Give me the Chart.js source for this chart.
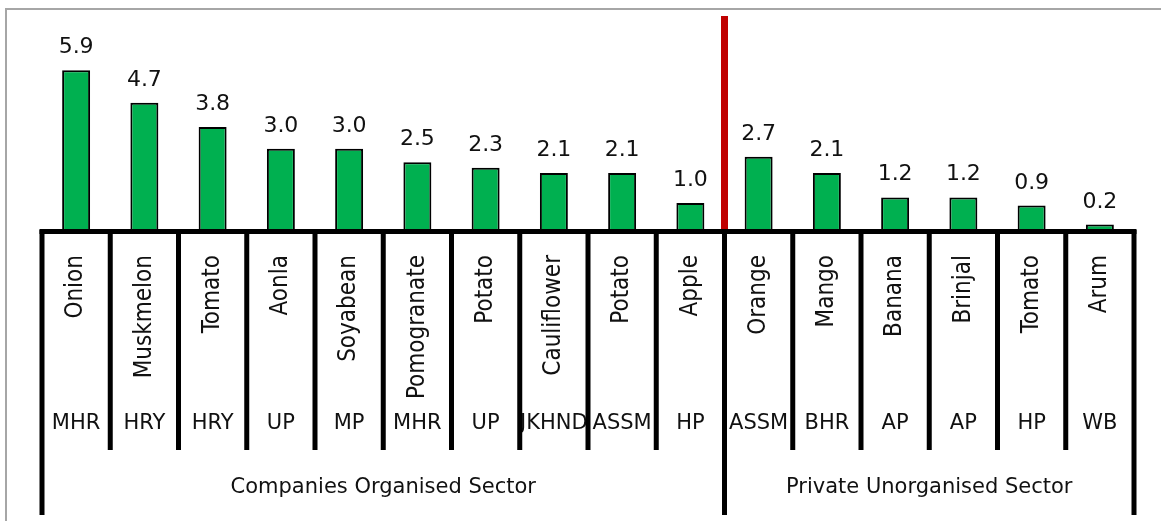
<!DOCTYPE html>
<html>
<head>
<meta charset="utf-8">
<script src="https://cdn.jsdelivr.net/npm/chart.js@4"></script>
<style>
  body { margin: 0; background: #fff; }
  #wrap { width: 1161px; height: 521px; }
</style>
</head>
<body>
<div id="wrap"><canvas id="results" width="1161" height="521"></canvas></div>
<script>
const crops = ['Onion', 'Muskmelon', 'Tomato', 'Aonla', 'Soyabean', 'Pomogranate', 'Potato', 'Cauliflower',
  'Potato', 'Apple', 'Orange', 'Mango', 'Banana', 'Brinjal', 'Tomato', 'Arum'];
const states = ['MHR', 'HRY', 'HRY', 'UP', 'MP', 'MHR', 'UP', 'JKHND', 'ASSM', 'HP',
  'ASSM', 'BHR', 'AP', 'AP', 'HP', 'WB'];
const values = [5.9, 4.7, 3.8, 3.0, 3.0, 2.5, 2.3, 2.1, 2.1, 1.0, 2.7, 2.1, 1.2, 1.2, 0.9, 0.2];
const sectors = ['Companies Organised Sector', 'Private Unorganised Sector'];
const sectorSizes = [10, 6];

// draws the frame, the table under the axis and the value labels
const tablePlugin = {
  id: 'table',
  beforeDraw(chart) {
    const c = chart.ctx;
    c.save();
    c.strokeStyle = '#a6a6a6';
    c.lineWidth = 2;
    c.strokeRect(6, 9, 1200, 600);
    c.restore();
  },
  afterDatasetsDraw(chart) {
    const c = chart.ctx;
    const xs = chart.scales.x;
    const ys = chart.scales.y;
    const area = chart.chartArea;
    const step = xs.getPixelForValue(1) - xs.getPixelForValue(0);
    const edge = i => xs.getPixelForValue(i) - step / 2;
    const axisY = ys.getPixelForValue(0);

    c.save();
    // value labels
    const meta = chart.getDatasetMeta(0);
    c.fillStyle = '#111';
    c.font = '22px "DejaVu Sans", Verdana, sans-serif';
    c.textAlign = 'center';
    c.textBaseline = 'alphabetic';
    meta.data.forEach((bar, i) => {
      c.fillText(values[i].toFixed(1), bar.x, bar.y - 17);
    });

    // crop names, rotated
    c.font = '24px "Liberation Sans Narrow", "DejaVu Sans Condensed", "Arial Narrow", sans-serif';
    c.textAlign = 'right';
    c.textBaseline = 'middle';
    crops.forEach((name, i) => {
      c.save();
      c.translate(xs.getPixelForValue(i), axisY + 25);
      c.rotate(-Math.PI / 2);
      c.fillText(name, 0, 0);
      c.restore();
    });

    // state row
    c.font = '21px "DejaVu Sans", Verdana, sans-serif';
    c.textAlign = 'center';
    states.forEach((s, i) => {
      c.fillText(s, xs.getPixelForValue(i), axisY + 194);
    });

    // sector row
    let start = 0;
    sectors.forEach((s, k) => {
      const x0 = edge(start), x1 = edge(start + sectorSizes[k]);
      c.fillText(s, (x0 + x1) / 2, axisY + 258);
      start += sectorSizes[k];
    });

    // red divider between the two sectors
    c.fillStyle = '#c00000';
    const split = edge(sectorSizes[0]);
    c.fillRect(split - 3.5, area.top, 7, axisY - area.top);

    // cell separators
    c.fillStyle = '#000';
    const outer = [0, sectorSizes[0], crops.length];
    for (let i = 0; i <= crops.length; i++) {
      const x = edge(i);
      const bottom = outer.includes(i) ? 515 : axisY + 220;
      c.fillRect(x - 2.5, axisY, 5, bottom - axisY);
    }
    // axis line
    c.fillRect(edge(0) - 2.5, axisY - 1, edge(crops.length) - edge(0) + 5, 5);
    c.restore();
  }
};

const ctx = document.getElementById('results');

const chart = new Chart(ctx, {
  type: 'bar',
  data: {
    labels: crops,
    datasets: [{
      data: values,
      backgroundColor: '#00b050',
      borderColor: '#000',
      borderWidth: 2,
      categoryPercentage: 1,
      barPercentage: 0.41
    }]
  },
  options: {
    responsive: false,
    animation: false,
    layout: { padding: { left: 42, right: 27, top: 16, bottom: 291 } },
    plugins: {
      legend: { display: false },
      tooltip: { enabled: false }
    },
    scales: {
      x: { display: false },
      y: { display: false, min: 0, max: 7.9 }
    }
  },
  plugins: [tablePlugin]
});
</script>
</body>
</html>
